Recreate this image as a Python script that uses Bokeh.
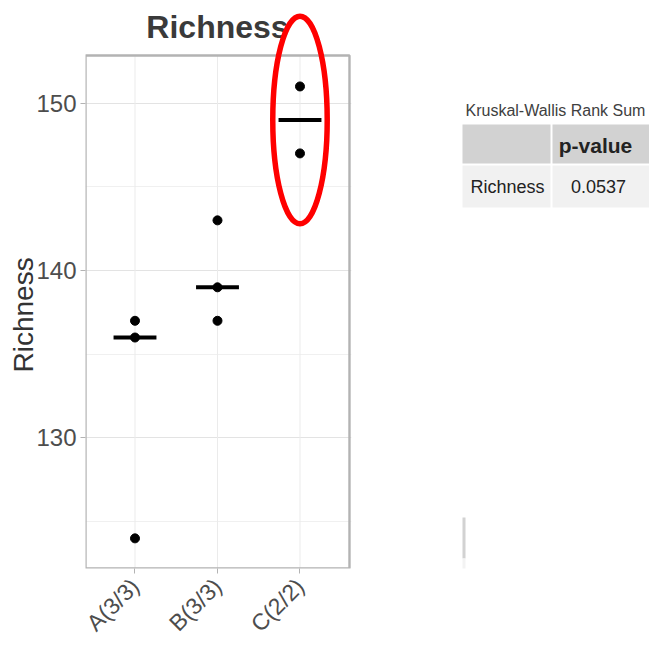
import numpy as np
from bokeh.plotting import figure
from bokeh.layouts import row
from bokeh.models import FixedTicker, Range1d, Title
from bokeh.embed import file_html
from bokeh.resources import INLINE
from bokeh.core.properties import value

# ---- data ----
categories = ["A(3/3)", "B(3/3)", "C(2/2)"]
richness_a = [137, 136, 124]
richness_b = [143, 139, 137]
richness_c = [151, 147]
y_ticks = [130, 140, 150]
y_minor_ticks = [125, 135, 145]

test_name = "Kruskal-Wallis Rank Sum"
table_columns = ["", "p-value"]
table_rows = ["Richness"]
p_values = [0.0537]

FONT = "Liberation Sans"

groups = [richness_a, richness_b, richness_c]
positions = np.arange(1, len(categories) + 1)
pt_x = np.concatenate([[positions[i]] * len(g) for i, g in enumerate(groups)])
pt_y = np.concatenate(groups)
medians = np.array([float(np.median(g)) for g in groups])

# panel limits (data units) and the pixel geometry of the canvas
x_lo, x_hi = 0.4, 3.6
y_lo, y_hi = 122.2, 152.85
panel_px = 513          # panel height in pixels
head_px = 55            # room above the panel for the title
per_px = (y_hi - y_lo) / panel_px
y_top = y_hi + head_px * per_px

# ---- dot plot with median bars ----
p = figure(width=362, height=650, x_range=Range1d(x_lo, x_hi + 2 / 81.9),
           y_range=Range1d(y_lo, y_top),
           output_backend="svg", toolbar_location=None,
           min_border_left=85, min_border_right=11, min_border_top=0, min_border_bottom=82,
           background_fill_color="white", border_fill_color="white")
p.outline_line_color = None

p.xaxis.ticker = FixedTicker(ticks=list(positions))
p.xaxis.major_label_overrides = {int(k): c for k, c in zip(positions, categories)}
p.xaxis.major_label_orientation = np.pi / 4
p.yaxis.ticker = FixedTicker(ticks=y_ticks, minor_ticks=y_minor_ticks)

for ax in (p.xaxis, p.yaxis):
    ax.axis_line_color = None
    ax.major_tick_line_color = "#b3b3b3"
    ax.major_tick_out = 5
    ax.major_tick_in = 0
    ax.minor_tick_line_color = None
    ax.major_label_text_font = FONT
    ax.major_label_text_color = "#4d4d4d"
    ax.major_label_standoff = 4

p.xaxis.major_label_standoff = 9
p.yaxis.major_label_text_font_size = "24px"
p.xaxis.major_label_text_font_size = "23px"

# y-axis title, centred on the panel (below the title band) rather than on the frame
p.add_layout(Title(text="Richness", align="left", offset=196,
                   text_font=FONT, text_font_size="28px", text_font_style="normal",
                   text_color="#333333", standoff=-10), "left")

p.ygrid.ticker = p.yaxis.ticker
p.ygrid.grid_line_color = "#e3e3e3"
p.ygrid.minor_grid_line_color = "#f0f0f0"
p.xgrid.visible = False

# vertical grid lines and panel border, kept inside the panel
p.segment(x0=positions, x1=positions, y0=y_lo, y1=y_hi, line_color="#ebebeb", line_width=1)
p.quad(left=x_lo, right=x_hi, bottom=y_lo, top=y_hi, fill_color=None,
       line_color="#b3b3b3", line_width=2.4)

p.segment(x0=positions - 0.26, x1=positions + 0.26, y0=medians, y1=medians,
          line_color="black", line_width=4)
p.scatter(pt_x, pt_y, size=9, color="black")

# title
p.text(x=[(x_lo + x_hi) / 2], y=[y_top - 26 * per_px], text=["Richness"],
       text_font=value(FONT), text_font_size="32px", text_font_style="bold",
       text_color="#3a3a3a", text_align="center", text_baseline="middle")

# highlight ring around group C
p.ellipse(x=[positions[2]], y=[medians[2]], width=0.66, height=12.4,
          fill_color=None, line_color="#ff0000", line_width=5.5)

# ---- test result table (pixel coordinates) ----
tb = figure(width=287, height=650, x_range=Range1d(362, 649), y_range=Range1d(568, 0),
            output_backend="svg", toolbar_location=None,
            x_axis_location=None, y_axis_location=None,
            min_border_left=0, min_border_right=0, min_border_top=0, min_border_bottom=82,
            background_fill_color="white", border_fill_color="white")
tb.grid.visible = False
tb.outline_line_color = None

tb.quad(left=[462, 552], right=[550, 660], top=[124, 124], bottom=[163, 163],
        fill_color="#d2d2d2", line_color=None)
tb.quad(left=[462, 552], right=[550, 660], top=[165, 165], bottom=[207, 207],
        fill_color="#f1f1f1", line_color=None)
tb.quad(left=[462, 462], right=[465, 465], top=[517, 558], bottom=[558, 600],
        fill_color=["#d2d2d2", "#f3f3f3"], line_color=None)

tb.text(x=[465], y=[110], text=[test_name], text_font=value(FONT), text_font_size="16px",
        text_color="#404040", text_align="left", text_baseline="middle")
tb.text(x=[595], y=[145], text=[table_columns[1]], text_font=value(FONT), text_font_size="21px",
        text_font_style="bold", text_color="#222222", text_align="center", text_baseline="middle")
tb.text(x=[507], y=[186], text=table_rows, text_font=value(FONT), text_font_size="18px",
        text_color="#222222", text_align="center", text_baseline="middle")
tb.text(x=[598], y=[186], text=[f"{v:.4f}" for v in p_values], text_font=value(FONT),
        text_font_size="18px", text_color="#222222", text_align="center", text_baseline="middle")

layout = row(p, tb)
open("out.html", "w").write(file_html(layout, INLINE))
